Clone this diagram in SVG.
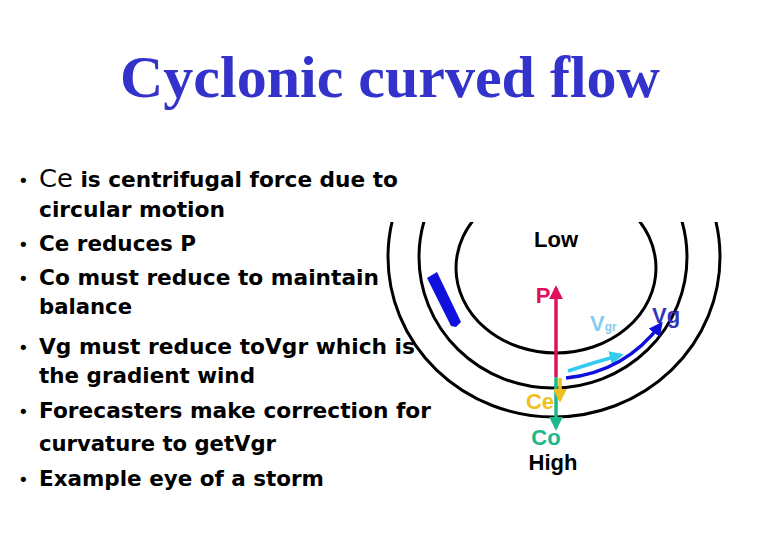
<svg xmlns="http://www.w3.org/2000/svg" width="780" height="540" viewBox="0 0 780 540">
<defs>
<style>
.t{font-family:"DejaVu Sans",Verdana,sans-serif;font-size:21px;font-weight:bold;fill:#000}
.b{font-family:"DejaVu Sans",sans-serif;font-size:18px;fill:#000}
.l{font-family:"Liberation Sans",Arial,sans-serif;font-weight:bold;font-size:22px}
.iso{fill:none;stroke:#000;stroke-width:3}
</style>
<clipPath id="c"><rect x="0" y="222" width="780" height="318"/></clipPath>
<marker id="mp" viewBox="0 0 10 10" refX="8" refY="5" markerWidth="4" markerHeight="4" orient="auto"><path d="M0,0L10,5L0,10z" fill="#e0105a"/></marker>
<marker id="mg" viewBox="0 0 10 10" refX="8" refY="5" markerWidth="4" markerHeight="4" orient="auto"><path d="M0,0L10,5L0,10z" fill="#1bb88a"/></marker>
<marker id="my" viewBox="0 0 10 10" refX="8" refY="5" markerWidth="4" markerHeight="4" orient="auto"><path d="M0,0L10,5L0,10z" fill="#f0c020"/></marker>
<marker id="mc" viewBox="0 0 10 10" refX="8" refY="5" markerWidth="4" markerHeight="4" orient="auto"><path d="M0,0L10,5L0,10z" fill="#33ccee"/></marker>
<marker id="mb" viewBox="0 0 10 10" refX="8" refY="5" markerWidth="4" markerHeight="4" orient="auto"><path d="M0,0L10,5L0,10z" fill="#1010dd"/></marker>
</defs>
<rect width="780" height="540" fill="#fff"/>
<text x="390" y="97" text-anchor="middle" font-family="Liberation Serif,serif" font-weight="bold" font-size="60" fill="#3333cc">Cyclonic curved flow</text>
<g id="bullets">
<text class="b" x="18" y="187">•</text><text class="b" x="18" y="251">•</text><text class="b" x="18" y="285">•</text><text class="b" x="18" y="354">•</text><text class="b" x="18" y="418">•</text><text class="b" x="18" y="486">•</text>
<text class="t" x="39" y="187" textLength="359" lengthAdjust="spacingAndGlyphs"><tspan font-size="25" font-weight="normal">Ce</tspan> is centrifugal force due to</text>
<text class="t" x="39" y="217" textLength="186" lengthAdjust="spacingAndGlyphs">circular motion</text>
<text class="t" x="39" y="251" textLength="157" lengthAdjust="spacingAndGlyphs">Ce reduces P</text>
<text class="t" x="39" y="285" textLength="340" lengthAdjust="spacingAndGlyphs">Co must reduce to maintain</text>
<text class="t" x="39" y="314" textLength="93" lengthAdjust="spacingAndGlyphs">balance</text>
<text class="t" x="39" y="354" textLength="376" lengthAdjust="spacingAndGlyphs">Vg must reduce toVgr which is</text>
<text class="t" x="39" y="383" textLength="216" lengthAdjust="spacingAndGlyphs">the gradient wind</text>
<text class="t" x="39" y="418" textLength="392" lengthAdjust="spacingAndGlyphs">Forecasters make correction for</text>
<text class="t" x="39" y="451" textLength="237" lengthAdjust="spacingAndGlyphs">curvature to getVgr</text>
<text class="t" x="39" y="486" textLength="285" lengthAdjust="spacingAndGlyphs">Example eye of a storm</text>
</g>
<g id="isobars" clip-path="url(#c)">
<ellipse class="iso" cx="556" cy="268" rx="100" ry="85"/>
<ellipse class="iso" cx="553" cy="257" rx="134" ry="131"/>
<ellipse class="iso" cx="554" cy="257" rx="166" ry="160"/>
</g>
<g id="bar"><path d="M427,278 L437,272 L461,322 L456,327 L451,326 Z" fill="#1010dd"/></g>
<g id="connectors" fill="none">
<line x1="556" y1="377" x2="556" y2="288" stroke="#e0105a" stroke-width="3.5" marker-end="url(#mp)"/>
<line x1="556" y1="377" x2="556" y2="428" stroke="#1bb88a" stroke-width="3.5" marker-end="url(#mg)"/>
<line x1="560" y1="378" x2="560" y2="400" stroke="#f0c020" stroke-width="3.5" marker-end="url(#my)"/>
<path d="M568,371 Q595,362 621,355" stroke="#33ccee" stroke-width="3.5" marker-end="url(#mc)"/>
<path d="M566,378 Q625,372 661,324" stroke="#1010dd" stroke-width="3.5" marker-end="url(#mb)"/>
</g>
<g id="labels">
<text class="l" x="556" y="247" text-anchor="middle">Low</text>
<text class="l" x="543" y="303" text-anchor="middle" fill="#e0105a">P</text>
<text class="l" x="590" y="331" fill="#88ccf0">V<tspan font-size="12">gr</tspan></text>
<text class="l" x="652" y="323" fill="#3333bb">Vg</text>
<text class="l" x="540" y="409" text-anchor="middle" fill="#f0c020">Ce</text>
<text class="l" x="546" y="445" text-anchor="middle" fill="#1bb88a">Co</text>
<text class="l" x="553" y="470" text-anchor="middle">High</text>
</g>
</svg>
